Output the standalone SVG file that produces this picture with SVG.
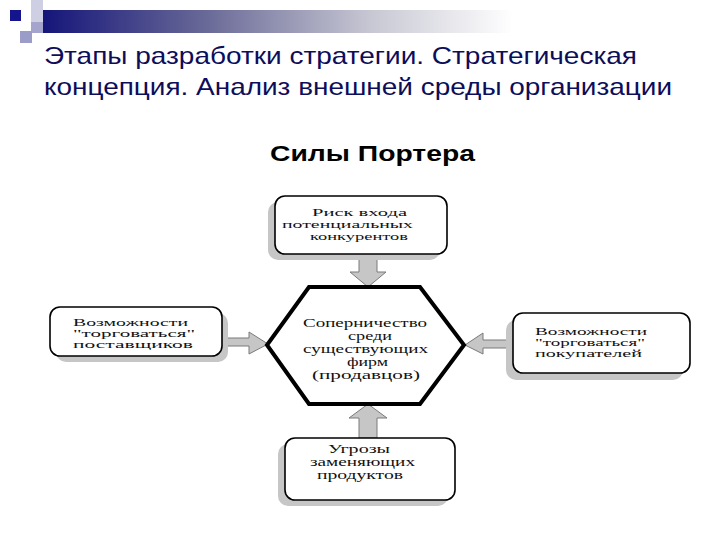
<svg xmlns="http://www.w3.org/2000/svg" width="720" height="540" viewBox="0 0 720 540">
<defs>
<linearGradient id="bar" x1="0" y1="0" x2="1" y2="0">
<stop offset="0" stop-color="#15157a"/>
<stop offset="0.35" stop-color="#6a6a98"/>
<stop offset="0.7" stop-color="#c8c8d4"/>
<stop offset="1" stop-color="#ffffff"/>
</linearGradient>
<style>
.title{font-family:"Liberation Sans",Arial,sans-serif;font-size:24px;fill:#0d0d5a}
.sub{font-family:"Liberation Sans",Arial,sans-serif;font-size:22px;font-weight:bold;fill:#000}
.t{font-family:"Liberation Serif","Times New Roman",serif;font-size:12px;fill:#111}
.s{font-size:11px}
.box{fill:#fff;stroke:#000;stroke-width:1.6}
.shadow{fill:#c6c6c6}
.arrow{fill:#c6c6c6;stroke:#7a7a7a;stroke-width:1}
.hex{fill:#fff;stroke:#000;stroke-width:4;stroke-linejoin:miter}
</style>
</defs>
<rect width="720" height="540" fill="#fff"/>
<g id="decor">
<rect x="31" y="0" width="12" height="22" fill="#cfcfe4"/>
<rect x="43" y="10" width="470" height="23" fill="url(#bar)"/>
<rect x="31" y="22" width="12" height="11" fill="#a4a4cc"/>
<rect x="10" y="10" width="11" height="11" fill="#14148c"/>
<rect x="20" y="31" width="12" height="12" fill="#9c9cc8"/>
</g>
<g id="title">
<text class="title" x="44" y="64" textLength="593" lengthAdjust="spacingAndGlyphs">Этапы разработки стратегии. Стратегическая</text>
<text class="title" x="44" y="95" textLength="628" lengthAdjust="spacingAndGlyphs">концепция. Анализ внешней среды организации</text>
<text class="sub" x="270" y="161" textLength="205" lengthAdjust="spacingAndGlyphs">Силы Портера</text>
</g>
<g id="connectors">
<polygon class="arrow" points="359,254 377,254 377,272 386,272 368,287 350,272 359,272"/>
<polygon class="arrow" points="359,438 377,438 377,418 387,418 368,404 349,418 359,418"/>
<polygon class="arrow" points="222,338 249,338 249,332 268,344 249,354 249,346 222,346"/>
<polygon class="arrow" points="513,340 483,340 483,333 465,345 483,354 483,348 513,348"/>
</g>
<g id="node-top">
<rect class="shadow" x="268" y="202" width="172" height="58" rx="10"/>
<rect class="box" x="275" y="196" width="172" height="58" rx="10" stroke-width="2"/>
<text class="t s" x="312" y="216" textLength="95" lengthAdjust="spacingAndGlyphs">Риск входа</text>
<text class="t s" x="282" y="228" textLength="131" lengthAdjust="spacingAndGlyphs">потенциальных</text>
<text class="t s" x="310" y="240" textLength="98" lengthAdjust="spacingAndGlyphs">конкурентов</text>
</g>
<g id="node-center">
<polygon class="hex" points="309,287 420,287 464,345 420,404 309,404 267,345"/>
<text class="t" x="303" y="327" textLength="124" lengthAdjust="spacingAndGlyphs">Соперничество</text>
<text class="t" x="348" y="340" textLength="44" lengthAdjust="spacingAndGlyphs">среди</text>
<text class="t" x="303" y="353" textLength="125" lengthAdjust="spacingAndGlyphs">существующих</text>
<text class="t" x="347" y="366" textLength="41" lengthAdjust="spacingAndGlyphs">фирм</text>
<text class="t" x="312" y="379" textLength="108" lengthAdjust="spacingAndGlyphs">(продавцов)</text>
</g>
<g id="node-left">
<rect class="shadow" x="56" y="313" width="172" height="49" rx="10"/>
<rect class="box" x="50" y="307" width="172" height="49" rx="10"/>
<text class="t s" x="73" y="326" textLength="115" lengthAdjust="spacingAndGlyphs">Возможности</text>
<text class="t s" x="73" y="337" textLength="122" lengthAdjust="spacingAndGlyphs">"торговаться"</text>
<text class="t s" x="73" y="348" textLength="120" lengthAdjust="spacingAndGlyphs">поставщиков</text>
</g>
<g id="node-right">
<rect class="shadow" x="506" y="320" width="177" height="60" rx="10"/>
<rect class="box" x="513" y="313" width="177" height="60" rx="10"/>
<text class="t s" x="535" y="335" textLength="112" lengthAdjust="spacingAndGlyphs">Возможности</text>
<text class="t s" x="535" y="346" textLength="110" lengthAdjust="spacingAndGlyphs">"торговаться"</text>
<text class="t s" x="535" y="357" textLength="107" lengthAdjust="spacingAndGlyphs">покупателей</text>
</g>
<g id="node-bottom">
<rect class="shadow" x="278" y="444" width="170" height="62" rx="10"/>
<rect class="box" x="285" y="438" width="170" height="62" rx="10"/>
<text class="t" x="328" y="453" textLength="62" lengthAdjust="spacingAndGlyphs">Угрозы</text>
<text class="t" x="310" y="466" textLength="105" lengthAdjust="spacingAndGlyphs">заменяющих</text>
<text class="t" x="317" y="479" textLength="86" lengthAdjust="spacingAndGlyphs">продуктов</text>
</g>
</svg>
